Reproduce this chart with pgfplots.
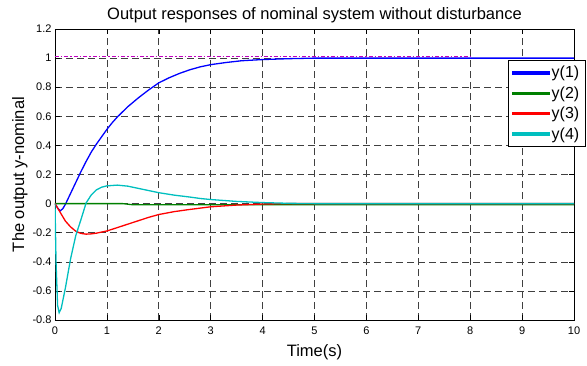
\documentclass[border=0pt]{standalone}
\usepackage{fontspec}
\setmainfont{Liberation Sans}
\usepackage{pgfplots}
\pgfplotsset{compat=1.18}

\definecolor{mblue}{rgb}{0,0,1}
\definecolor{mgreen}{rgb}{0,0.5,0}
\definecolor{mred}{rgb}{1,0,0}
\definecolor{mcyan}{rgb}{0,0.75,0.75}
\definecolor{mmagenta}{rgb}{0.75,0,0.75}

\begin{document}
\begin{tikzpicture}
\begin{axis}[
  scale only axis,
  width=519pt, height=291pt,
  xmin=0, xmax=10, ymin=-0.8, ymax=1.2,
  xtick={0,1,...,10},
  ytick={-0.8,-0.6,-0.4,-0.2,0,0.2,0.4,0.6,0.8,1,1.2},
  yticklabels={-0.8,-0.6,-0.4,-0.2,0,0.2,0.4,0.6,0.8,1,1.2},
  /pgf/number format/assume math mode=true,
  tick label style={font=\fontsize{11}{13}\selectfont},
  xticklabel style={yshift=-3pt},
  tick align=inside, tick pos=both,
  major tick length=5pt,
  every tick/.style={black, line width=0.5pt},
  axis line style={black, line width=0.8pt},
  grid=major,
  major grid style={black!75, line width=0.6pt, dash pattern=on 7pt off 4pt},
  title={Output responses of nominal system without disturbance},
  title style={font=\fontsize{16.5}{19}\selectfont, yshift=-3pt},
  xlabel={Time(s)},
  ylabel={The output y-nominal},
  label style={font=\fontsize{16.5}{19}\selectfont},
  xlabel style={yshift=-3pt},
  ylabel style={yshift=-2pt},
  legend style={at={(0.8728,0.8935)}, anchor=north west,
    font=\fontsize{16}{19}\selectfont, draw=black, line width=0.8pt,
    fill=white, inner xsep=4pt, inner ysep=4pt, row sep=3.3pt,
    cells={anchor=west}},
  legend image code/.code={\fill[#1] (0pt,-1pt) rectangle (36pt,1pt);},
  legend cell align=left,
  clip=true,
]
% reference level
\addplot[mmagenta, line width=1.5pt, dash pattern=on 4pt off 2pt on 1.5pt off 2pt, forget plot]
  coordinates {(0,1.01) (8,1.01)};

\addplot[mblue, line width=1.3pt] coordinates {
 (0,0) (0.05,-0.03) (0.1,-0.05) (0.15,-0.035) (0.2,-0.005) (0.3,0.07)
 (0.4,0.145) (0.5,0.22) (0.6,0.29) (0.7,0.355) (0.8,0.41) (0.9,0.46)
 (1.0,0.51) (1.1,0.555) (1.2,0.595) (1.4,0.665) (1.6,0.725) (1.8,0.78)
 (2.0,0.83) (2.2,0.865) (2.4,0.895) (2.6,0.92) (2.8,0.94) (3.0,0.955)
 (3.3,0.97) (3.6,0.982) (4.0,0.99) (4.5,0.996) (5,1.0) (10,1.0)};
\addlegendentry{y(1)}

\addplot[mgreen, line width=1.3pt] coordinates {
 (0,0) (1.3,0) (1.5,-0.008) (10,-0.008)};
\addlegendentry{y(2)}

\addplot[mred, line width=1.3pt] coordinates {
 (0,0) (0.05,-0.03) (0.1,-0.06) (0.2,-0.12) (0.3,-0.16) (0.4,-0.19)
 (0.5,-0.205) (0.6,-0.21) (0.7,-0.208) (0.8,-0.203) (1.0,-0.188)
 (1.2,-0.165) (1.5,-0.13) (1.8,-0.095) (2.0,-0.075) (2.3,-0.055)
 (2.6,-0.04) (3.0,-0.022) (3.5,-0.01) (4.0,-0.003) (4.5,0) (10,0)};
\addlegendentry{y(3)}

\addplot[mcyan, line width=1.3pt] coordinates {
 (0,0) (0.02,-0.4) (0.05,-0.7) (0.08,-0.75) (0.12,-0.72) (0.2,-0.58)
 (0.3,-0.38) (0.4,-0.22) (0.5,-0.11) (0.6,0.005) (0.7,0.06) (0.8,0.095)
 (0.9,0.113) (1.0,0.122) (1.2,0.127) (1.4,0.12) (1.6,0.105) (1.8,0.09)
 (2.0,0.075) (2.3,0.058) (2.6,0.045) (2.8,0.035) (3.0,0.028)
 (3.5,0.015) (4.0,0.007) (4.5,0.002) (5,0) (10,0)};
\addlegendentry{y(4)}
\end{axis}
\pgfresetboundingbox
\path (-55pt,-45pt) rectangle (532pt,320pt);
\end{tikzpicture}
\end{document}
